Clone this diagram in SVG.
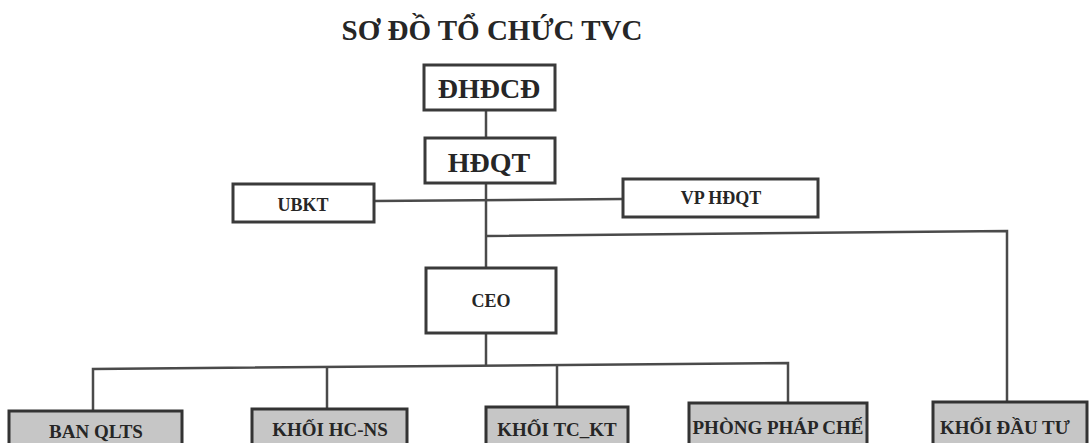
<svg xmlns="http://www.w3.org/2000/svg" width="1089" height="443" viewBox="0 0 1089 443">
<style>
.box{fill:#ffffff;stroke:#3a3a3a;stroke-width:3}
.gbox{fill:#c6c6c6;stroke:#333333;stroke-width:3}
.ln{fill:none;stroke:#4a4a4a;stroke-width:2.5}
text{font-family:"Liberation Serif","Times New Roman",serif;font-weight:bold;fill:#262626;text-anchor:middle}
.big{font-size:28px}
.mid{font-size:18px}
.sm{font-size:19px}
</style>
<rect width="1089" height="443" fill="#ffffff"/>
<text id="title" x="492" y="40" style="font-size:29px">SƠ ĐỒ TỔ CHỨC TVC</text>
<g id="connectors">
<line class="ln" x1="486" y1="110" x2="486" y2="137"/>
<line class="ln" x1="486" y1="183" x2="486" y2="268"/>
<line class="ln" x1="374" y1="201" x2="623" y2="199"/>
<polyline class="ln" points="486,236 1007,231 1007,402"/>
<line class="ln" x1="486" y1="333" x2="486" y2="366"/>
<polyline class="ln" points="93,411 93,369 788,363 788,403"/>
<line class="ln" x1="327" y1="368" x2="327" y2="409"/>
<line class="ln" x1="557" y1="365" x2="557" y2="407"/>
</g>
<g id="dhdcd"><rect class="box" x="424" y="65" width="131" height="45"/><text class="big" x="489" y="98">ĐHĐCĐ</text></g>
<g id="hdqt"><rect class="box" x="425" y="138" width="130" height="45"/><text class="big" x="489" y="172">HĐQT</text></g>
<g id="ubkt"><rect class="box" x="233" y="184" width="141" height="38"/><text class="mid" x="303" y="211">UBKT</text></g>
<g id="vphdqt"><rect class="box" x="623" y="179" width="195" height="38"/><text class="mid" x="721" y="204">VP HĐQT</text></g>
<g id="ceo"><rect class="box" x="426" y="268" width="130" height="65"/><text class="mid" x="491" y="307">CEO</text></g>
<g id="banqlts"><rect class="gbox" x="9" y="411" width="173" height="40"/><text class="sm" x="96" y="438">BAN QLTS</text></g>
<g id="khoihcns"><rect class="gbox" x="252" y="409" width="155" height="42"/><text class="sm" x="330" y="436">KHỐI HC-NS</text></g>
<g id="khoitckt"><rect class="gbox" x="486" y="407" width="142" height="44"/><text class="sm" x="557" y="436">KHỐI TC_KT</text></g>
<g id="phongphapche"><rect class="gbox" x="689" y="403" width="178" height="48"/><text class="sm" x="778" y="434">PHÒNG PHÁP CHẾ</text></g>
<g id="khoidautu"><rect class="gbox" x="933" y="402" width="154" height="49"/><text class="sm" x="1005" y="434">KHỐI ĐẦU TƯ</text></g>
</svg>
